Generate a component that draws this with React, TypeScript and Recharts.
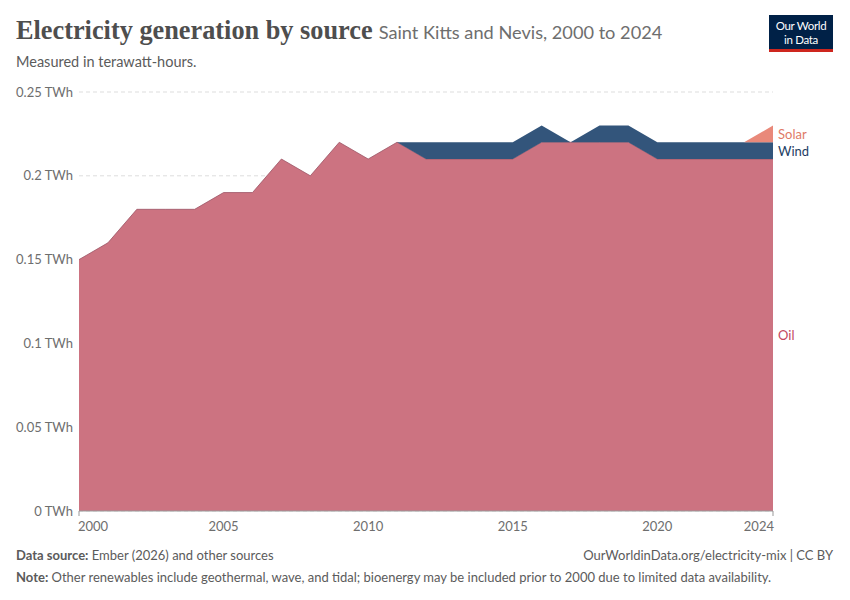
import { AreaChart, Area, XAxis, YAxis, CartesianGrid, ReferenceDot } from 'recharts'

/* ─── Data ─── */

const years = [
  2000, 2001, 2002, 2003, 2004, 2005, 2006, 2007, 2008, 2009, 2010, 2011, 2012,
  2013, 2014, 2015, 2016, 2017, 2018, 2019, 2020, 2021, 2022, 2023, 2024,
]
const oil = [
  0.15, 0.16, 0.18, 0.18, 0.18, 0.19, 0.19, 0.21, 0.2, 0.22, 0.21, 0.22, 0.21,
  0.21, 0.21, 0.21, 0.22, 0.22, 0.22, 0.22, 0.21, 0.21, 0.21, 0.21, 0.21,
]
const wind = [
  0, 0, 0, 0, 0, 0, 0, 0, 0, 0, 0, 0, 0.01, 0.01, 0.01, 0.01, 0.01, 0, 0.01,
  0.01, 0.01, 0.01, 0.01, 0.01, 0.01,
]
const solar = [
  0, 0, 0, 0, 0, 0, 0, 0, 0, 0, 0, 0, 0, 0, 0, 0, 0, 0, 0, 0, 0, 0, 0, 0, 0.01,
]
const xTicks = [2000, 2005, 2010, 2015, 2020, 2024]
const yTicks = [0, 0.05, 0.1, 0.15, 0.2, 0.25]

/* ─── Style ─── */

const FONT = 'Lato, "Noto Sans", sans-serif'
const OIL = '#cc7381'
const WIND = '#33557b'
const SOLAR = '#e9897a'

const data = years.map((year, i) => ({ year, oil: oil[i], wind: wind[i], solar: solar[i] }))
const last = data.length - 1

function formatY(v: number) {
  return `${v} TWh`
}

function XTick({ x, y, payload }: { x?: number; y?: number; payload?: { value: number } }) {
  const v = payload!.value
  const anchor = v === xTicks[0] ? 'start' : v === xTicks[xTicks.length - 1] ? 'end' : 'middle'
  const isEnd = v === xTicks[0] || v === xTicks[xTicks.length - 1]
  return (
    <g>
      {isEnd && <line x1={x} x2={x} y1={y! - 8} y2={y! - 3} stroke="#999" />}
      <text
        x={anchor === 'start' ? x! - 1 : anchor === 'end' ? x! + 1 : x}
        y={y! + 12}
        textAnchor={anchor}
        fill="#6e6e6e"
        fontSize={13}
        fontFamily={FONT}
      >
        {v}
      </text>
    </g>
  )
}

function SideLabel({ viewBox, text, color }: { viewBox?: { x: number; y: number }; text: string; color: string }) {
  if (!viewBox) return null
  return (
    <text x={viewBox.x + 5} y={viewBox.y + 5} fill={color} fontSize={13} fontFamily={FONT}>
      {text}
    </text>
  )
}

export default function App() {
  return (
    <div
      style={{
        position: 'absolute',
        top: 0,
        left: 0,
        width: 850,
        height: 600,
        background: '#fff',
        fontFamily: FONT,
      }}
    >
      {/* Header */}
      <div style={{ position: 'absolute', left: 16, top: 16, whiteSpace: 'nowrap' }}>
        <span
          style={{
            fontFamily: '"Liberation Serif", "DejaVu Serif", serif',
            fontWeight: 700,
            fontSize: 26.3,
            color: '#4e4e4e',
          }}
        >
          Electricity generation by source
        </span>
        <span style={{ fontSize: 18.2, color: '#6e6e6e', marginLeft: 6 }}>
          Saint Kitts and Nevis, 2000 to 2024
        </span>
      </div>
      <div style={{ position: 'absolute', left: 16, top: 53, fontSize: 14.5, color: '#5b5b5b' }}>
        Measured in terawatt-hours.
      </div>

      {/* Logo */}
      <div
        style={{
          position: 'absolute',
          left: 769,
          top: 15,
          width: 64,
          height: 37,
          background: '#002147',
          borderBottom: '3px solid #ce261e',
          boxSizing: 'border-box',
          color: '#fff',
          fontSize: 11.5,
          lineHeight: '13.5px',
          textAlign: 'center',
          paddingTop: 4,
          letterSpacing: -0.3,
        }}
      >
        <div>Our World</div>
        <div>in Data</div>
      </div>

      <div style={{ position: 'absolute', left: 0, top: 0 }}>
        <AreaChart
          width={850}
          height={600}
          data={data}
          margin={{ top: 92, right: 77, bottom: 89 - 30, left: 9 }}
        >
          <CartesianGrid vertical={false} stroke="#dddddd" strokeDasharray="4 3" />
          <XAxis
            dataKey="year"
            type="number"
            domain={[2000, 2024]}
            ticks={xTicks}
            interval={0}
            axisLine={{ stroke: '#999' }}
            tickLine={false}
            tick={<XTick />}
            height={30}
          />
          <YAxis
            domain={[0, 0.25]}
            ticks={yTicks}
            interval={0}
            axisLine={false}
            tickLine={false}
            tickFormatter={formatY}
            tick={{ fill: '#6e6e6e', fontSize: 13, fontFamily: FONT }}
            tickMargin={0}
            width={70}
          />
          <Area
            type="linear"
            dataKey="oil"
            stackId="1"
            fill={OIL}
            fillOpacity={1}
            stroke="#9c5566"
            strokeWidth={0.8}
            isAnimationActive={false}
          />
          <Area
            type="linear"
            dataKey="wind"
            stackId="1"
            fill={WIND}
            fillOpacity={1}
            stroke="none"
            isAnimationActive={false}
          />
          <Area
            type="linear"
            dataKey="solar"
            stackId="1"
            fill={SOLAR}
            fillOpacity={1}
            stroke="none"
            isAnimationActive={false}
          />
          <ReferenceDot
            x={years[last]}
            y={oil[last] + wind[last] + solar[last] / 2}
            r={0}
            ifOverflow="visible"
            label={<SideLabel text="Solar" color="#e07a66" />}
          />
          <ReferenceDot
            x={years[last]}
            y={oil[last] + wind[last] / 2}
            r={0}
            ifOverflow="visible"
            label={<SideLabel text="Wind" color="#1d3d63" />}
          />
          <ReferenceDot
            x={years[last]}
            y={oil[last] / 2}
            r={0}
            ifOverflow="visible"
            label={<SideLabel text="Oil" color="#c4485f" />}
          />
        </AreaChart>
      </div>

      {/* Footer */}
      <div style={{ position: 'absolute', left: 16, top: 547, fontSize: 13, color: '#5b5b5b' }}>
        <b>Data source:</b> Ember (2026) and other sources
      </div>
      <div
        style={{ position: 'absolute', right: 17, top: 547, fontSize: 13, color: '#5b5b5b', textAlign: 'right' }}
      >
        OurWorldinData.org/electricity-mix | CC BY
      </div>
      <div style={{ position: 'absolute', left: 16, top: 569, fontSize: 13, color: '#5b5b5b' }}>
        <b>Note:</b> Other renewables include geothermal, wave, and tidal; bioenergy may be included prior to 2000 due
        to limited data availability.
      </div>
    </div>
  )
}
